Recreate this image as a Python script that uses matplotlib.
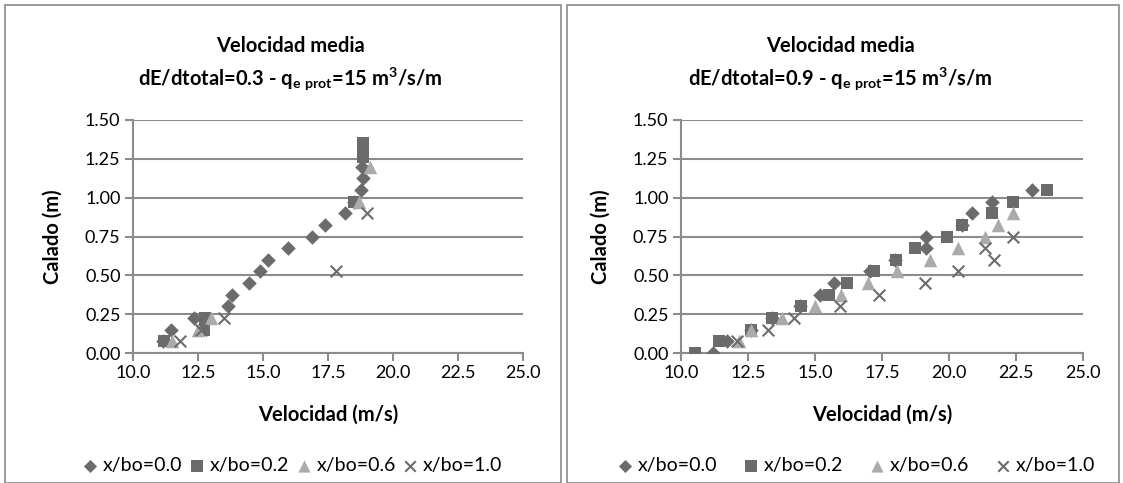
import numpy as np
import matplotlib.pyplot as plt
from matplotlib.patches import Rectangle

plt.rcParams['font.family'] = ['Lato', 'DejaVu Sans']

# left panel: dE/dtotal = 0.3
l_v00 = [11.15, 11.45, 12.35, 13.65, 13.8, 14.45, 14.9, 15.2, 15.95, 16.9, 17.4, 18.15, 18.5, 18.75, 18.85, 18.82]
l_y00 = [0.075, 0.15, 0.225, 0.30, 0.375, 0.45, 0.525, 0.60, 0.675, 0.75, 0.825, 0.90, 0.975, 1.05, 1.125, 1.20]
l_v02 = [11.2, 12.72, 12.75, 18.5, 18.83, 18.83, 18.83]
l_y02 = [0.075, 0.15, 0.225, 0.975, 1.26, 1.30, 1.35]
l_v06 = [11.5, 12.5, 13.0, 18.7, 19.1]
l_y06 = [0.075, 0.15, 0.225, 0.975, 1.20]
l_v10 = [11.8, 12.6, 13.5, 17.8, 19.0]
l_y10 = [0.075, 0.15, 0.225, 0.525, 0.90]

# right panel: dE/dtotal = 0.9
r_v00 = [11.2, 11.7, 12.6, 13.4, 14.45, 15.2, 15.7, 17.05, 18.0, 19.15, 19.15, 20.5, 20.85, 21.6, 23.1]
r_y00 = [0.0, 0.075, 0.15, 0.225, 0.30, 0.375, 0.45, 0.525, 0.60, 0.675, 0.75, 0.825, 0.90, 0.975, 1.05]
r_v02 = [10.52, 11.4, 12.6, 13.4, 14.47, 15.53, 16.19, 17.2, 18.03, 18.73, 19.93, 20.47, 21.6, 22.4, 23.67]
r_y02 = [0.0, 0.075, 0.15, 0.225, 0.30, 0.375, 0.45, 0.525, 0.60, 0.675, 0.75, 0.825, 0.90, 0.975, 1.05]
r_v06 = [12.16, 12.63, 13.76, 15.0, 15.96, 16.99, 18.07, 19.29, 20.33, 21.33, 21.83, 22.4]
r_y06 = [0.075, 0.15, 0.225, 0.30, 0.375, 0.45, 0.525, 0.60, 0.675, 0.75, 0.825, 0.90]
r_v10 = [12.1, 13.23, 14.2, 15.93, 17.4, 19.09, 20.33, 21.69, 21.33, 22.4]
r_y10 = [0.075, 0.15, 0.225, 0.30, 0.375, 0.45, 0.525, 0.60, 0.675, 0.75]

labels = ['x/bo=0.0', 'x/bo=0.2', 'x/bo=0.6', 'x/bo=1.0']
titles = ['Velocidad media\ndE/dtotal=0.3 - q$_{\\mathregular{e\\ prot}}$=15 m$^{\\mathregular{3}}$/s/m',
          'Velocidad media\ndE/dtotal=0.9 - q$_{\\mathregular{e\\ prot}}$=15 m$^{\\mathregular{3}}$/s/m']

dark = '#6b6b6b'
light = '#ababab'
grid = '#8c8c8c'

W, H = 1123, 483
fig = plt.figure(figsize=(W / 100, H / 100), dpi=100)

# panel frames
for x0, x1 in [(5, 561), (567, 1119)]:
    fig.patches.append(Rectangle((x0 / W, 0), (x1 - x0) / W, (H - 5) / H, transform=fig.transFigure,
                                 fill=False, edgecolor='#8a8a8a', linewidth=1.2))

ax_l = fig.add_axes([133 / W, 1 - 353 / H, 390 / W, 233 / H])
ax_r = fig.add_axes([681 / W, 1 - 353 / H, 402 / W, 233 / H])

panels = [
    (ax_l, [(l_v00, l_y00), (l_v02, l_y02), (l_v06, l_y06), (l_v10, l_y10)], titles[0], 290, 292, 0.3),
    (ax_r, [(r_v00, r_y00), (r_v02, r_y02), (r_v06, r_y06), (r_v10, r_y10)], titles[1], 840, 856, 1.3),
]

for ax, series, title, tx, lx, colsp in panels:
    (v0, y0), (v2, y2), (v6, y6), (v10, y10) = series
    ax.set_axisbelow(True)
    ax.yaxis.grid(True, color=grid, linewidth=1.5)
    h0 = ax.scatter(v0, y0, marker='D', s=55, color=dark, linewidths=0, zorder=3)
    h2 = ax.scatter(v2, y2, marker='s', s=85, color=dark, linewidths=0, zorder=3)
    h6 = ax.scatter(v6, y6, marker='^', s=95, color=light, linewidths=0, zorder=3)
    h10 = ax.scatter(v10, y10, marker='x', s=70, color=dark, linewidths=1.5, zorder=3)
    ax.set_xlim(10, 25)
    ax.set_ylim(0, 1.5)
    ax.set_xticks(np.arange(10, 25.1, 2.5))
    ax.set_yticks(np.arange(0, 1.51, 0.25))
    ax.set_xticklabels(['%.1f' % t for t in np.arange(10, 25.1, 2.5)])
    ax.set_yticklabels(['%.2f' % t for t in np.arange(0, 1.51, 0.25)])
    ax.tick_params(labelsize=13, color=grid, width=1.5, length=6, pad=3)
    for s in ['top', 'right']:
        ax.spines[s].set_visible(False)
    for s in ['left', 'bottom']:
        ax.spines[s].set_color(grid)
        ax.spines[s].set_linewidth(1.5)
    ax.set_xlabel('Velocidad (m/s)', fontsize=14.5, fontweight='bold', labelpad=17)
    ax.set_ylabel('Calado (m)', fontsize=14.5, fontweight='bold', labelpad=16)
    fig.text(tx / W, 1 - 64 / H, title, ha='center', va='center', fontsize=14.5,
             fontweight='bold', linespacing=1.45)
    fig.legend([h0, h2, h6, h10], labels, loc='center', bbox_to_anchor=(lx / W, 1 - 466 / H),
               ncol=4, frameon=False, fontsize=14, handlelength=0.9, handletextpad=0.2,
               columnspacing=colsp, borderaxespad=0, borderpad=0, markerscale=0.9)

fig.savefig('out.png', dpi=100)
